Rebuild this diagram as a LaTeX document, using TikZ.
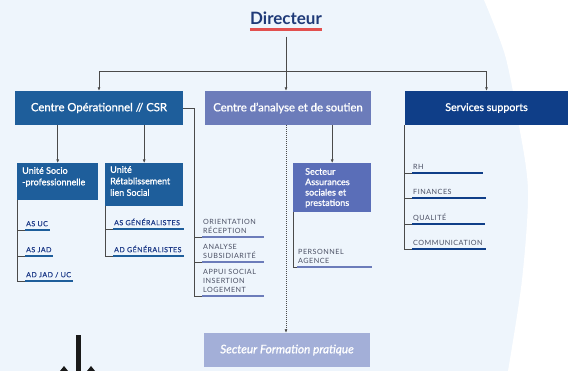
\documentclass[tikz,border=0pt]{standalone}
\usepackage{fontspec}
\setmainfont{Lato}
\newfontfamily\spacedfont[LetterSpace=7]{Lato}
\newfontfamily\spacedboldfont[LetterSpace=7,FakeBold=0.8]{Lato}
\newfontfamily\medfont[FakeBold=1.2]{Lato}
\usetikzlibrary{arrows.meta}
\definecolor{bgblue}{HTML}{EEF5FC}
\definecolor{cOne}{HTML}{1E5E9B}
\definecolor{cTwo}{HTML}{6C7CBA}
\definecolor{cThree}{HTML}{0F3E88}
\definecolor{cFour}{HTML}{5A6EB8}
\definecolor{cFive}{HTML}{A3AFD8}
\definecolor{lineg}{HTML}{4A4A4A}
\definecolor{dirblue}{HTML}{1F3A78}
\definecolor{redline}{HTML}{E2504F}
\definecolor{itemgray}{HTML}{4A4F63}
\definecolor{itemnavy}{HTML}{213D8A}
\begin{document}
\begin{tikzpicture}[x=1pt,y=-1pt,
  every node/.style={inner sep=0pt},
  conn/.style={draw=lineg, line width=0.7pt},
  arr/.style={conn, -{Latex[length=3.5pt,width=3pt]}},
  mainbox/.style={text=white, minimum height=34pt, font=\medfont\fontsize{11.3}{13}\selectfont},
  unitbox/.style={text=white, anchor=north west, font=\medfont\fontsize{9}{11.5}\selectfont},
  itemL/.style={anchor=south west, align=left, inner xsep=1pt, inner ysep=3.6pt, text depth=0pt,
    text=itemnavy, font=\spacedboldfont\fontsize{7}{8.6}\selectfont},
  itemC/.style={itemL, text=itemgray, font=\spacedfont\fontsize{7.2}{8.7}\selectfont},
  barL/.style={draw=cOne, line width=2.6pt},
  barC/.style={draw=cTwo, line width=2.6pt},
  barR/.style={draw=cThree, line width=2.6pt},
]
\useasboundingbox (0,0) rectangle (568,371);
% background
\fill[bgblue] (0,0) rectangle (568,371);
\fill[white] plot[smooth] coordinates {(484,0) (505,55) (518,120) (528,190) (522,280) (508,371)} -- (568,371) -- (568,0) -- cycle;

% director
\node[font=\bfseries\fontsize{17}{20}\selectfont, text=dirblue] (dir) at (286,18) {Directeur};
\draw[redline, line width=3pt] ([yshift=-5pt]dir.south west) -- ([yshift=-5pt]dir.south east);
\coordinate (hub) at (286,71);

% main boxes
\node[mainbox, fill=cOne, minimum width=168pt] (b1) at (99,108) {Centre Opérationnel // CSR};
\node[mainbox, fill=cTwo, minimum width=166pt] (b2) at (288,108) {Centre d’analyse et de soutien};
\node[mainbox, fill=cThree, minimum width=163pt, font=\medfont\fontsize{10.7}{13}\selectfont] (b3) at (486.5,108) {Services supports};

\draw[conn] ([yshift=-12pt]dir.south) -- (hub);
\draw[arr] (hub) -| (b1.north);
\draw[arr] (hub) -- (hub |- b2.north);
\draw[arr] (hub) -| (b3.north);

% unit boxes
\node[unitbox, fill=cOne, inner xsep=5pt, inner ysep=4pt] (u1) at (17,163)
  {\parbox[c][29pt][t]{71pt}{\raggedright Unité Socio\\-professionnelle}};
\node[unitbox, fill=cOne, inner xsep=5pt, inner ysep=3pt] (u2) at (105,163)
  {\parbox[c][37pt][t]{68pt}{\raggedright Unité\\Rétablissement\\lien Social}};
\node[unitbox, fill=cFour, inner xsep=12pt, inner ysep=5pt] (s1) at (293,163)
  {\parbox[c][39pt][t]{54pt}{\raggedright\fontsize{9}{10.4}\selectfont Secteur\\Assurances\\sociales et\\prestations}};
\node[fill=cFive, minimum width=166pt, minimum height=34pt, text=white,
  font=\medfont\itshape\fontsize{11.8}{13}\selectfont] (sf) at (287,350) {Secteur Formation pratique};

\draw[arr] (b1.south -| u1) -- (u1.north);
\draw[arr] (b1.south -| u2) -- (u2.north);
\draw[arr] (b2.south -| s1) -- (s1.north);
\draw[arr, dash pattern=on 1pt off 1pt] (hub |- b2.south) -- (hub |- sf.north);

% left items
\node[itemL] (asuc) at (25,230) {AS UC};
\node[itemL] (asjad) at (25,256) {AS JAD};
\node[itemL] (adjad) at (25,281) {AD JAD / UC};
\draw[barL] (asuc.south west) -- ++(25,0);
\draw[barL] (asjad.south west) -- ++(28,0);
\draw[barL] (adjad.south west) -- ++(48,0);
\draw[conn] (u1.south west) |- (adjad.south west);
\draw[conn] (u1.south west |- asuc.south west) -- (asuc.south west);
\draw[conn] (u1.south west |- asjad.south west) -- (asjad.south west);

\node[itemL] (asgen) at (113,229) {AS GÉNÉRALISTES};
\node[itemL] (adgen) at (113,256) {AD GÉNÉRALISTES};
\draw[barL] (asgen.south west) -- ++(71,0);
\draw[barL] (adgen.south west) -- ++(71,0);
\draw[conn] (u2.south west) |- (adgen.south west);
\draw[conn] (u2.south west |- asgen.south west) -- (asgen.south west);

% center items
\coordinate (brk) at (194,108);
\node[itemC] (orient) at (202,237) {ORIENTATION\\RÉCEPTION};
\node[itemC] (analyse) at (202,262) {ANALYSE\\SUBSIDIARITÉ};
\node[itemC] (appui) at (202,296) {APPUI SOCIAL\\INSERTION\\LOGEMENT};
\draw[barC] (orient.south west) -- ++(62,0);
\draw[barC] (analyse.south west) -- ++(62,0);
\draw[barC] (appui.south west) -- ++(62,0);
\draw[conn] (b1.east) -- (brk) |- (appui.south west);
\draw[conn] (brk |- orient.south west) -- (orient.south west);
\draw[conn] (brk |- analyse.south west) -- (analyse.south west);

\node[itemC] (pers) at (297,267) {PERSONNEL\\AGENCE};
\draw[barC] (pers.south west) -- ++(75,0);
\draw[conn] (s1.south west) |- (pers.south west);

% right items
\node[itemC] (rh) at (412,173) {RH};
\node[itemC] (fin) at (412,198) {FINANCES};
\node[itemC] (qual) at (412,224) {QUALITÉ};
\node[itemC] (comm) at (412,249) {COMMUNICATION};
\draw[barR] (rh.south west) -- ++(71,0);
\draw[barR] (fin.south west) -- ++(74,0);
\draw[barR] (qual.south west) -- ++(73,0);
\draw[barR] (comm.south west) -- ++(74,0);
\draw[conn] (b3.south west) |- (comm.south west);
\draw[conn] (b3.south west |- rh.south west) -- (rh.south west);
\draw[conn] (b3.south west |- fin.south west) -- (fin.south west);
\draw[conn] (b3.south west |- qual.south west) -- (qual.south west);

% partial glyph at bottom left
\fill[black!90] (76,335) rectangle (81,371);
\fill[black!90] (60,371) -- (64,366) -- (68,371) -- cycle;
\fill[black!90] (87,371) -- (91,366) -- (95,371) -- cycle;
\end{tikzpicture}
\end{document}
